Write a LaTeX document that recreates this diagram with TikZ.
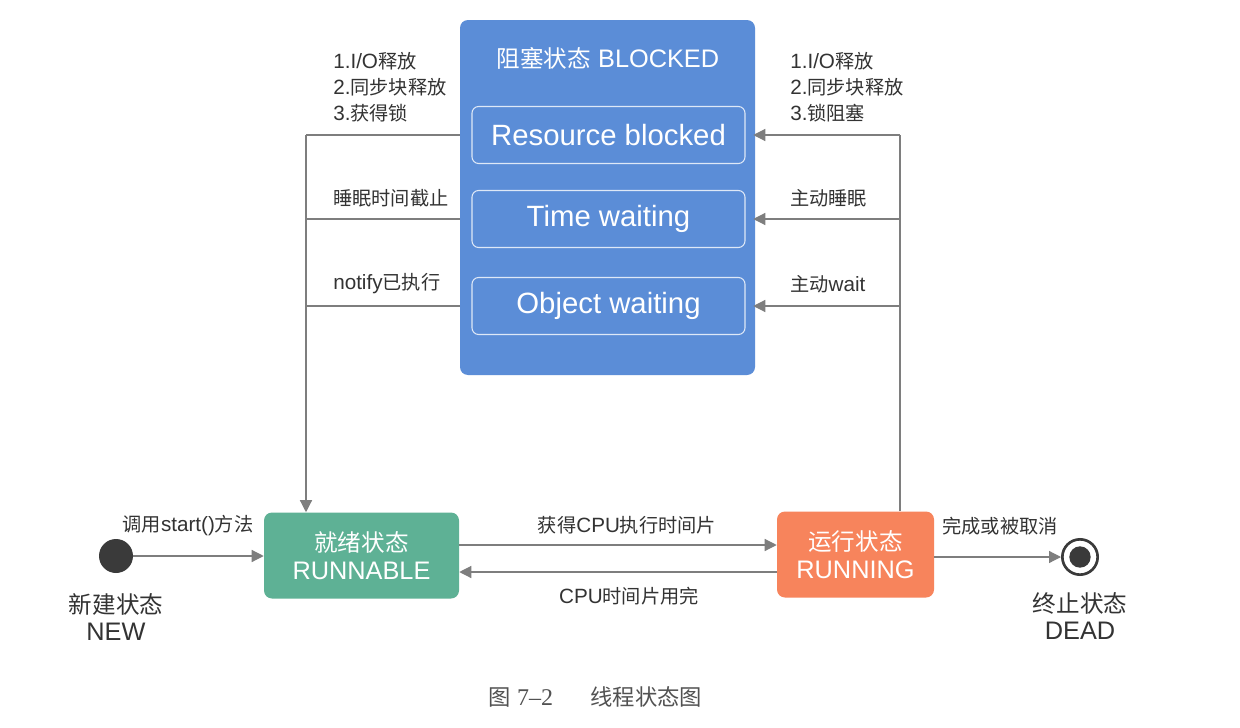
\documentclass[tikz,border=0pt]{standalone}
\usepackage{fontspec}
\setmainfont{Liberation Sans}
\newfontfamily\cjk[Scale=0.93]{Noto Sans CJK SC}
\newfontfamily\capserif{Liberation Serif}
\usetikzlibrary{arrows.meta}
\definecolor{blockblue}{HTML}{5B8DD7}
\definecolor{readygreen}{HTML}{5EB195}
\definecolor{runorange}{HTML}{F7845C}
\definecolor{linegray}{HTML}{7E7E7E}
\definecolor{labeltext}{HTML}{333333}
\definecolor{dotdark}{HTML}{3A3A3A}
\begin{document}
\begin{tikzpicture}[x=0.75pt,y=-0.75pt,
    ln/.style={draw=linegray,line width=0.9pt},
    arr/.style={ln,-{Triangle[length=9pt,width=9pt]}},
    lbl/.style={text=labeltext,font=\fontsize{15.5}{19.5}\selectfont,inner sep=0pt}]

      \useasboundingbox[fill=white] (0,0) rectangle (1240,728);

      \begin{scope}[every node/.style={rounded corners=6pt,text=white,inner sep=0pt}]
        \node[fill=blockblue,minimum width=221.25pt,minimum height=266.25pt] (blocked) at (607.5,197.5) {};
        \node[font=\fontsize{19}{22}\selectfont] (title) at (608,58) {{\cjk 阻塞状态} BLOCKED};
        \node[fill=readygreen,minimum width=146.25pt,minimum height=64.5pt,align=center,
              font=\fontsize{19}{21}\selectfont] (ready) at (361.5,555.5) {{\cjk 就绪状态}\\RUNNABLE};
        \node[fill=runorange,minimum width=117.75pt,minimum height=64.5pt,align=center,
              font=\fontsize{19}{21}\selectfont] (run) at (855.5,554.5) {{\cjk 运行状态}\\RUNNING};
      \end{scope}

      \begin{scope}[every node/.style={draw=white!80!blockblue,line width=0.8pt,rounded corners=5pt,
            minimum width=204.75pt,minimum height=42.75pt,text=white,inner sep=0pt,
            font=\fontsize{22}{24}\selectfont}]
        \node (res)   at (608.5,135) {Resource blocked};
        \node (timew) at (608.5,219) {Time waiting};
        \node (objw)  at (608.5,306) {Object waiting};
      \end{scope}

      \node[circle,fill=dotdark,minimum size=25.5pt,inner sep=0pt] (new) at (116,556) {};
      \node[circle,draw=dotdark,line width=2pt,minimum size=26.5pt,inner sep=0pt] (dead) at (1080,557) {};
      \node[circle,fill=dotdark,minimum size=16pt,inner sep=0pt] (deadin) at (1080,557) {};

      \coordinate (lft) at (306,135);
      \coordinate (rgt) at (900,135);

      \path[ln] (blocked.west |- res) -- (lft);
      \path[arr] (lft) -- (lft |- ready.north);
      \path[ln] (blocked.west |- timew) -- (lft |- timew);
      \path[ln] (blocked.west |- objw) -- (lft |- objw);

      \path[ln] (rgt |- run.north) -- (rgt);
      \path[arr] (rgt) -- ([xshift=-1.5pt]blocked.east |- res);
      \path[arr] (rgt |- timew) -- ([xshift=-1.5pt]blocked.east |- timew);
      \path[arr] (rgt |- objw) -- ([xshift=-1.5pt]blocked.east |- objw);

      \path[arr] (new.east) -- (ready.west |- new.east);
      \path[arr] (ready.east |- 0,545) -- (run.west |- 0,545);
      \path[arr] (run.west |- 0,572) -- (ready.east |- 0,572);
      \path[arr] (run.east |- 0,557) -- (dead.west);

      \begin{scope}[every node/.style={lbl}]
        \node[anchor=west,align=left] (lrel)  at (333,87)  {1.I/O{\cjk 释放}\\2.{\cjk 同步块释放}\\3.{\cjk 获得锁}};
        \node[anchor=west] (lsleep) at (333,198) {\cjk 睡眠时间截止};
        \node[anchor=west] (lnote)  at (333,284) {notify{\cjk 已执行}};
        \node[anchor=west,align=left] (rrel)  at (790,87)  {1.I/O{\cjk 释放}\\2.{\cjk 同步块释放}\\3.{\cjk 锁阻塞}};
        \node[anchor=west] (rsleep) at (790,198) {\cjk 主动睡眠};
        \node[anchor=west] (rwait)  at (790,284) {{\cjk 主动}wait};
        \node (lstart) at (188,526) {{\cjk 调用}start(){\cjk 方法}};
        \node (lget)   at (627,525) {{\cjk 获得}CPU{\cjk 执行时间片}};
        \node (lout)   at (629,596) {CPU{\cjk 时间片用完}};
        \node (ldone)  at (1000,526) {\cjk 完成或被取消};
      \end{scope}

      \begin{scope}[every node/.style={lbl,align=center,font=\fontsize{19}{20.25}\selectfont}]
        \node (newtxt)  at (116,617)  {{\cjk 新建状态}\\NEW};
        \node (deadtxt) at (1080,616) {{\cjk 终止状态}\\DEAD};
      \end{scope}

      \node[text=labeltext!85,font=\fontsize{18}{20}\selectfont] (cap) at (595,697)
        {{\cjk 图} {\capserif 7–2}\hspace{28pt}{\cjk 线程状态图}};

    \end{tikzpicture}
\end{document}
